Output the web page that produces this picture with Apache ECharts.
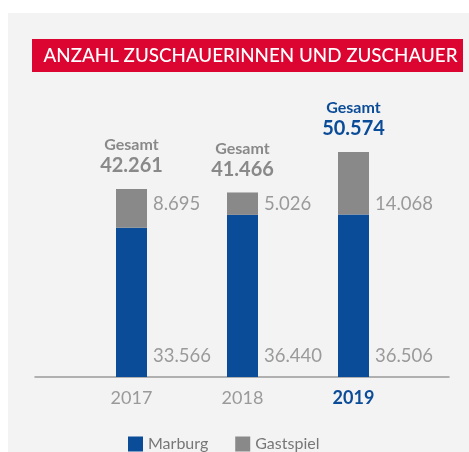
<!DOCTYPE html>
<html><head><meta charset="utf-8">
<script src="https://cdn.jsdelivr.net/npm/echarts@6/dist/echarts.min.js"></script>
<style>html,body{margin:0;padding:0;background:#fff}#c{width:469px;height:452px}</style>
</head><body><div id="c"></div>
<script>
const years = ['2017', '2018', '2019'];
const marburg = [33566, 36440, 36506];
const gastspiel = [8695, 5026, 14068];
const highlightYear = '2019';
const titleText = 'ANZAHL ZUSCHAUERINNEN UND ZUSCHAUER';

const BLUE = '#0b4c98', GREY = '#898989', LBL = '#9a9a9a', RED = '#dc0430';
const fmt = v => String(v).replace(/\B(?=(\d{3})+(?!\d))/g, '.');
const FONT = 'Lato';

const chart = echarts.init(document.getElementById('c'));
const gastData = gastspiel.map((v, i) => {
  const hl = years[i] === highlightYear;
  return {
    value: v,
    label: {
      rich: {
        a: { color: hl ? BLUE : GREY, fontSize: 16, fontWeight: 'bold', lineHeight: 20, fontFamily: FONT, align: 'center' },
        b: { color: hl ? BLUE : GREY, fontSize: 20, fontWeight: 'bold', lineHeight: 22, fontFamily: FONT, align: 'center' }
      }
    }
  };
});

chart.setOption({
  backgroundColor: '#ffffff',
  animation: false,
  graphic: [
    { type: 'rect', shape: { x: 8, y: 13, width: 461, height: 439 }, style: { fill: '#f3f3f3' }, z: -10, silent: true },
    { type: 'rect', shape: { x: 32, y: 39, width: 431, height: 33 }, style: { fill: RED }, z: 1 },
    { type: 'text', x: 250.5, y: 56, style: { text: titleText, fill: '#fff', font: '500 18.8px Lato', textAlign: 'center', textVerticalAlign: 'middle' }, z: 2 }
  ],
  legend: {
    top: 431, left: 123, itemWidth: 15, itemHeight: 15, itemGap: 27, icon: 'rect',
    textStyle: { color: '#777', fontSize: 16, fontFamily: FONT },
    data: ['Marburg', 'Gastspiel']
  },
  grid: [
    { left: 76, right: 60, top: 110, bottom: 75 },
    { left: 35, right: 20, top: 110, bottom: 75 }
  ],
  xAxis: [
    {
      type: 'category', data: years, gridIndex: 0,
      axisLine: { show: false }, axisTick: { show: false },
      axisLabel: {
        margin: 12, fontSize: 18, fontFamily: FONT,
        color: v => v === highlightYear ? BLUE : LBL,
        formatter: v => v === highlightYear ? '{h|' + v + '}' : v,
        rich: { h: { color: BLUE, fontWeight: 'bold', fontSize: 18, fontFamily: FONT } }
      }
    },
    {
      type: 'value', gridIndex: 1, min: 0, max: 1,
      axisLine: { show: true, lineStyle: { color: '#9a9a9a', width: 1.5 } },
      axisTick: { show: false }, axisLabel: { show: false }, splitLine: { show: false }
    }
  ],
  yAxis: [
    { type: 'value', gridIndex: 0, min: 0, max: 60000, show: false, splitLine: { show: false } },
    { type: 'value', gridIndex: 1, min: 0, max: 1, show: false, splitLine: { show: false } }
  ],
  series: [
    {
      name: 'Marburg', type: 'bar', stack: 't', barWidth: 31, data: marburg,
      itemStyle: { color: BLUE },
      label: {
        show: true, position: ['100%', '100%'], offset: [6, -11], align: 'left', verticalAlign: 'bottom',
        formatter: p => '{g|' + fmt(gastspiel[p.dataIndex]) + '}\n{s| }\n{m|' + fmt(p.value) + '}',
        rich: {
          g: { color: LBL, fontSize: 18.5, lineHeight: 20, fontFamily: FONT },
          s: { fontSize: 10, lineHeight: 132 },
          m: { color: LBL, fontSize: 18.5, lineHeight: 20, fontFamily: FONT }
        }
      }
    },
    {
      name: 'Gastspiel', type: 'bar', stack: 't', barWidth: 31, data: gastData,
      itemStyle: { color: GREY },
      label: {
        show: true, position: 'top', distance: 12,
        formatter: p => '{a|Gesamt}\n{b|' + fmt(marburg[p.dataIndex] + gastspiel[p.dataIndex]) + '}'
      }
    },
    {
      type: 'line', xAxisIndex: 1, yAxisIndex: 1, data: [], silent: true
    }
  ]
});
</script></body></html>
